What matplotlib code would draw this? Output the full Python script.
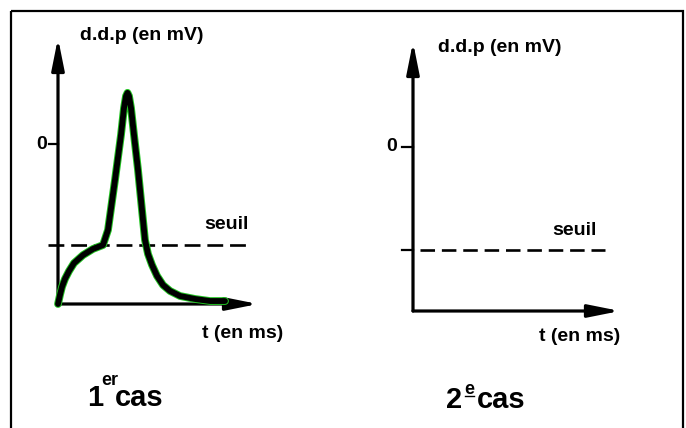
import matplotlib
matplotlib.use('Agg')
import matplotlib.pyplot as plt
from matplotlib.patches import FancyArrowPatch, Rectangle

plt.rcParams['font.family'] = ['Liberation Sans', 'DejaVu Sans']

# potentiel de repos, seuil (mV) - schéma sans échelle réelle
repos = -70
seuil = -44

t1 = [0.0, 0.10, 0.20, 0.35, 0.55, 0.80, 1.25, 1.75, 2.25, 2.50, 2.85, 3.15,
      3.30, 3.40, 3.475, 3.55, 3.65, 3.80, 4.00, 4.20, 4.35, 4.50, 4.70, 4.95,
      5.25, 5.60, 6.10, 6.85, 7.60, 8.35]
v1 = [-70.0, -66.0, -62.5, -59.0, -55.6, -52.1, -48.6, -45.9, -44.2, -37.6, -15.7, 4.0,
      15.8, 21.0, 22.4, 21.0, 15.8, 4.0, -11.3, -28.9, -42.0, -48.1, -52.9, -57.7,
      -61.7, -64.3, -66.5, -67.8, -68.7, -68.7]

# limites des axes (t en ms, ddp en mV)
xlim1, ylim1 = (0, 10), (-70, 46.4)
xlim2, ylim2 = (0, 10), (-70, 44.8)
seuil_t1 = (-0.5, 9.5)
seuil_t2 = (0.34, 9.28)

W, H = 686, 428
fig = plt.figure(figsize=(W / 100, H / 100), dpi=100)
fig.patch.set_facecolor('white')


def px_axes(x0, x1, ytop, ybot):
    return fig.add_axes([x0 / W, (H - ybot) / H, (x1 - x0) / W, (ybot - ytop) / H])


def draw_axes(ax):
    ax.set_axis_off()
    for xy in [(0, 1), (1, 0)]:
        arr = FancyArrowPatch((0, 0), xy, transform=ax.transAxes,
                              arrowstyle='-|>,head_length=1.9,head_width=0.38',
                              mutation_scale=10, lw=2.3, color='black',
                              shrinkA=0, shrinkB=0, clip_on=False)
        ax.add_patch(arr)


lab = dict(fontsize=14, fontweight='bold', color='black')

# ---- 1er cas
ax1 = px_axes(58, 258, 38, 304)
ax1.set_xlim(*xlim1)
ax1.set_ylim(*ylim1)
draw_axes(ax1)
ax1.plot(seuil_t1, [seuil, seuil], color='black', lw=1.9, ls=(0, (6, 2.6)), clip_on=False)
ax1.plot(t1, v1, color='#22c422', lw=5.6, solid_capstyle='round', solid_joinstyle='round', clip_on=False)
ax1.plot(t1, v1, color='black', lw=4.2, solid_capstyle='round', solid_joinstyle='round', clip_on=False)
ax1.plot([-0.45, 0], [0, 0], color='black', lw=1.6, clip_on=False)
ax1.text(-0.8, 0, '0', ha='center', va='center', **lab)
ax1.text(0.11, 1.01, 'd.d.p (en mV)', transform=ax1.transAxes, ha='left', va='center', **lab)
ax1.text(0.84, 0.30, 'seuil', transform=ax1.transAxes, ha='center', va='center', **lab)
ax1.text(1.125, -0.11, 't (en ms)', transform=ax1.transAxes, ha='right', va='center', **lab)

# ---- 2e cas
ax2 = px_axes(413, 620, 42, 311)
ax2.set_xlim(*xlim2)
ax2.set_ylim(*ylim2)
draw_axes(ax2)
ax2.plot(seuil_t2, [seuil, seuil], color='black', lw=1.9, ls=(0, (5.5, 2.6)), clip_on=False)
ax2.plot([-0.55, 0], [0, 0], color='black', lw=1.6, clip_on=False)
ax2.plot([-0.55, 0], [seuil, seuil], color='black', lw=1.6, clip_on=False)
ax2.text(-1.05, 0, '0', ha='center', va='center', **lab)
ax2.text(0.12, 0.98, 'd.d.p (en mV)', transform=ax2.transAxes, ha='left', va='center', **lab)
ax2.text(0.78, 0.30, 'seuil', transform=ax2.transAxes, ha='center', va='center', **lab)
ax2.text(1.0, -0.095, 't (en ms)', transform=ax2.transAxes, ha='right', va='center', **lab)

# ---- cadre et titres
ov = fig.add_axes([0, 0, 1, 1], zorder=-1)
ov.set_xlim(0, W)
ov.set_ylim(H, 0)
ov.set_axis_off()
ov.add_patch(Rectangle((11, 11), 672, 430, fill=False, lw=1.6, ec='black', clip_on=False))

big = dict(fontsize=21, fontweight='bold', ha='left', va='baseline')
sup = dict(fontsize=13, fontweight='bold', ha='left', va='baseline')
ov.text(87, 406, '1', **big)
ov.text(101, 385, 'er', **sup)
ov.text(115, 406, 'cas', **big)

ov.text(446, 408, '2', **big)
ov.text(464, 394, 'e', **sup)
ov.plot([465, 474], [396, 396], color='black', lw=1.0)
ov.text(477, 408, 'cas', **big)

fig.savefig('out.png', dpi=100, facecolor='white')
